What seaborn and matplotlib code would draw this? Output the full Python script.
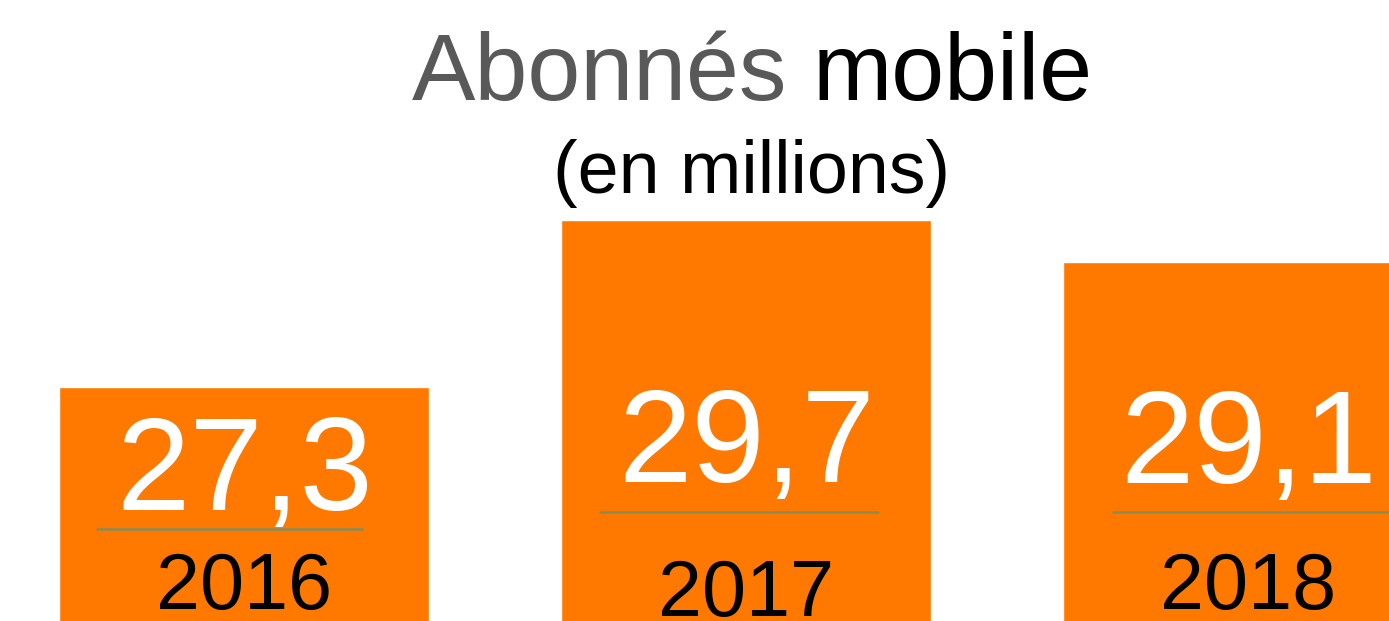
import matplotlib
matplotlib.use("Agg")
import matplotlib.pyplot as plt
from matplotlib.lines import Line2D
import seaborn as sns
import pandas as pd

# Subscriber counts (millions)
years = ["2016", "2017", "2018"]
subscribers = [27.3, 29.7, 29.1]
value_labels = ["27,3", "29,7", "29,1"]

# Layout (figure pixels, origin top-left)
W, H = 1389, 621
value_baselines = [510, 482, 483]
rule_y = [529, 512, 512]
rule_x = [(97, 362), (600, 878), (1113, 1389)]
year_baselines = [609, 616, 609]

ORANGE = "#FF7900"

sns.set_theme(style="white")
plt.rcParams["font.family"] = ["Liberation Sans", "DejaVu Sans"]

fig = plt.figure(figsize=(W / 100, H / 100), dpi=100)
fig.patch.set_facecolor("white")
ax = fig.add_axes([0, 0, 1, 1])

df = pd.DataFrame({"year": years, "subs": subscribers})
sns.barplot(data=df, x="year", y="subs", order=years, color=ORANGE,
            saturation=1, width=0.737, ax=ax, errorbar=None)

ax.set_xlim(-0.4867, 2.2802)
ax.set_ylim(23.96, 32.84)
ax.axis("off")


def fy(py):
    return 1 - py / H


# Title: two-tone first line, subtitle below
fig.text(787 / W, fy(100), "Abonnés", color="#595959", fontsize=68.5,
         ha="right", va="baseline")
fig.text(813 / W, fy(100), "mobile", color="black", fontsize=68.5,
         ha="left", va="baseline")
fig.text(752 / W, fy(193), "(en millions)", color="black", fontsize=53,
         ha="center", va="baseline")

blend = matplotlib.transforms.blended_transform_factory(ax.transData, fig.transFigure)
for i, (lab, yr) in enumerate(zip(value_labels, years)):
    ax.text(i, fy(value_baselines[i]), lab, transform=blend, color="white",
            fontsize=95, ha="center", va="baseline")
    ax.text(i, fy(year_baselines[i]), yr, transform=blend, color="black",
            fontsize=57, ha="center", va="baseline")
    x0, x1 = rule_x[i]
    fig.add_artist(Line2D([x0 / W, x1 / W], [fy(rule_y[i])] * 2,
                          transform=fig.transFigure, color="#868c58", lw=1.8))

fig.savefig("out.png", dpi=100, facecolor="white")
